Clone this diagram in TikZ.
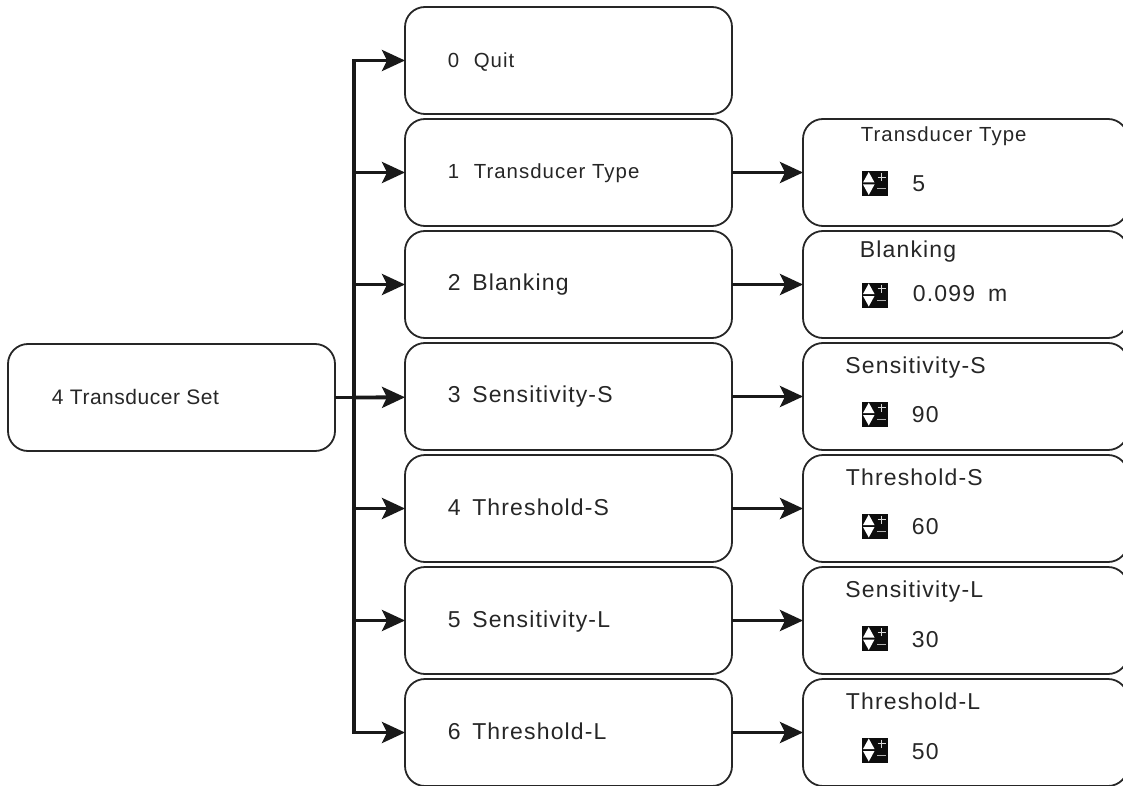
\documentclass[tikz,border=0pt]{standalone}
\usepackage{fontspec}
\setmainfont{Liberation Sans}
\newfontfamily\menufont[LetterSpace=5]{Liberation Sans}
\newfontfamily\setfont[LetterSpace=2.5]{Liberation Sans}
\usetikzlibrary{arrows.meta,positioning}

% spin icon: black square with up and down arrows, plus and minus
\newcommand{\spinicon}[3]{%
  \node[icon] (#2) at ([shift={(72,#3)}]#1.west) {};
  \fill[white] ([shift={(-12,-1)}]#2.center) -- ++(11.5,0) -- ++(-5.75,-10.5) -- cycle;
  \fill[white] ([shift={(-12,1)}]#2.center) -- ++(11.5,0) -- ++(-5.75,10.5) -- cycle;
  \draw[black!15, line width=.4pt] ([shift={(2.5,-6.5)}]#2.center) -- ++(8,0) ([shift={(6.5,-10.5)}]#2.center) -- ++(0,8);
  \draw[black!30, line width=.5pt] ([shift={(2,5.5)}]#2.center) -- ++(9,0);
}

\begin{document}
\begin{tikzpicture}[x=.5pt, y=-.5pt]
		\tikzstyle{menubox}=[rectangle, rounded corners=10pt, draw=black!85, line width=.9pt, minimum width=163.5pt, minimum height=53.5pt, outer sep=0pt, node distance=2.5pt]
		\tikzstyle{valuebox}=[rectangle, rounded corners=10pt, draw=black!85, line width=.9pt, minimum width=162.5pt, minimum height=53.5pt, outer sep=0pt]
		\tikzstyle{big}=[inner sep=0pt, anchor=base west, text=black!85, font=\menufont\fontsize{11.5}{13}\selectfont]
		\tikzstyle{small}=[inner sep=0pt, anchor=base west, text=black!85, font=\menufont\fontsize{10.2}{12}\selectfont]
		\tikzstyle{settext}=[inner sep=0pt, anchor=base west, text=black!85, font=\setfont\fontsize{10.5}{12}\selectfont]
		\tikzstyle{icon}=[rectangle, fill=black!95, inner sep=0pt, minimum width=13pt, minimum height=12.5pt, outer sep=0pt]
		\tikzstyle{connect}=[-{Stealth[length=11.5pt, width=10.5pt, inset=2.5pt]}, line width=1.9pt, black!90]
		\useasboundingbox (0,0) rectangle (1123,786);

		\node[menubox] (quit) at (568.5,60.5) {};
		\node[menubox] (type) [below=of quit] {};
		\node[menubox] (blanking) [below=of type] {};
		\node[menubox] (sensS) [below=of blanking] {};
		\node[menubox] (threshS) [below=of sensS] {};
		\node[menubox] (sensL) [below=of threshS] {};
		\node[menubox] (threshL) [below=of sensL] {};

		\node[menubox] (set) at (171.5,397.5) {};

		\node[valuebox, right=35.5pt of type] (typeval) {};
		\node[valuebox, right=35.5pt of blanking] (blankingval) {};
		\node[valuebox, right=35.5pt of sensS] (sensSval) {};
		\node[valuebox, right=35.5pt of threshS] (threshSval) {};
		\node[valuebox, right=35.5pt of sensL] (sensLval) {};
		\node[valuebox, right=35.5pt of threshL] (threshLval) {};

		\node[settext] (settxt) at ([shift={(43.5,7)}]set.west) {4 Transducer Set};
		\node[small] (quittxt) at ([shift={(42.5,7)}]quit.west) {0\hspace{7.3pt}Quit};
		\node[small] (typetxt) at ([shift={(42.5,6)}]type.west) {1\hspace{7.3pt}Transducer Type};
		\node[big] (blankingtxt) at ([shift={(42.5,6)}]blanking.west) {2\hspace{5.8pt}Blanking};
		\node[big] (sensStxt) at ([shift={(42.5,6)}]sensS.west) {3\hspace{5.8pt}Sensitivity-S};
		\node[big] (threshStxt) at ([shift={(42.5,7)}]threshS.west) {4\hspace{5.8pt}Threshold-S};
		\node[big] (sensLtxt) at ([shift={(42.5,7)}]sensL.west) {5\hspace{5.8pt}Sensitivity-L};
		\node[big] (threshLtxt) at ([shift={(42.5,7)}]threshL.west) {6\hspace{5.8pt}Threshold-L};

		\node[small] (typetitle) at ([shift={(57.5,-31)}]typeval.west) {Transducer Type};
		\node[big] (blankingtitle) at ([shift={(56.5,-27)}]blankingval.west) {Blanking};
		\node[big] (sensStitle) at ([shift={(42,-23)}]sensSval.west) {Sensitivity-S};
		\node[big] (threshStitle) at ([shift={(42.5,-23)}]threshSval.west) {Threshold-S};
		\node[big] (sensLtitle) at ([shift={(42,-23)}]sensLval.west) {Sensitivity-L};
		\node[big] (threshLtitle) at ([shift={(42.5,-23)}]threshLval.west) {Threshold-L};

		\spinicon{typeval}{typeicon}{11}
		\spinicon{blankingval}{blankingicon}{10.5}
		\spinicon{sensSval}{sensSicon}{17.5}
		\spinicon{threshSval}{threshSicon}{17.5}
		\spinicon{sensLval}{sensLicon}{18}
		\spinicon{threshLval}{threshLicon}{17.5}

		\node[big] (typenum) at ([shift={(109,19)}]typeval.west) {5};
		\node[big] (blankingnum) at ([shift={(109.5,17)}]blankingval.west) {0.099\hspace{6.5pt}m};
		\node[big] (sensSnum) at ([shift={(108.5,26)}]sensSval.west) {90};
		\node[big] (threshSnum) at ([shift={(108.5,26)}]threshSval.west) {60};
		\node[big] (sensLnum) at ([shift={(108.5,27)}]sensLval.west) {30};
		\node[big] (threshLnum) at ([shift={(108.5,27)}]threshLval.west) {50};

		\coordinate[right=9.5pt of set.east] (spine);

		\draw[line width=1.4pt, black!90] (set) -- (spine);
		\draw[connect] (spine) -- (sensS);
		\draw[connect] (spine) |- (quit);
		\draw[connect] (spine) |- (type);
		\draw[connect] (spine) |- (blanking);
		\draw[connect] (spine) |- (threshS);
		\draw[connect] (spine) |- (sensL);
		\draw[connect] (spine) |- (threshL);

		\path (type) edge [connect] (typeval);
		\path (blanking) edge [connect] (blankingval);
		\path (sensS) edge [connect] (sensSval);
		\path (threshS) edge [connect] (threshSval);
		\path (sensL) edge [connect] (sensLval);
		\path (threshL) edge [connect] (threshLval);
\end{tikzpicture}
\end{document}
